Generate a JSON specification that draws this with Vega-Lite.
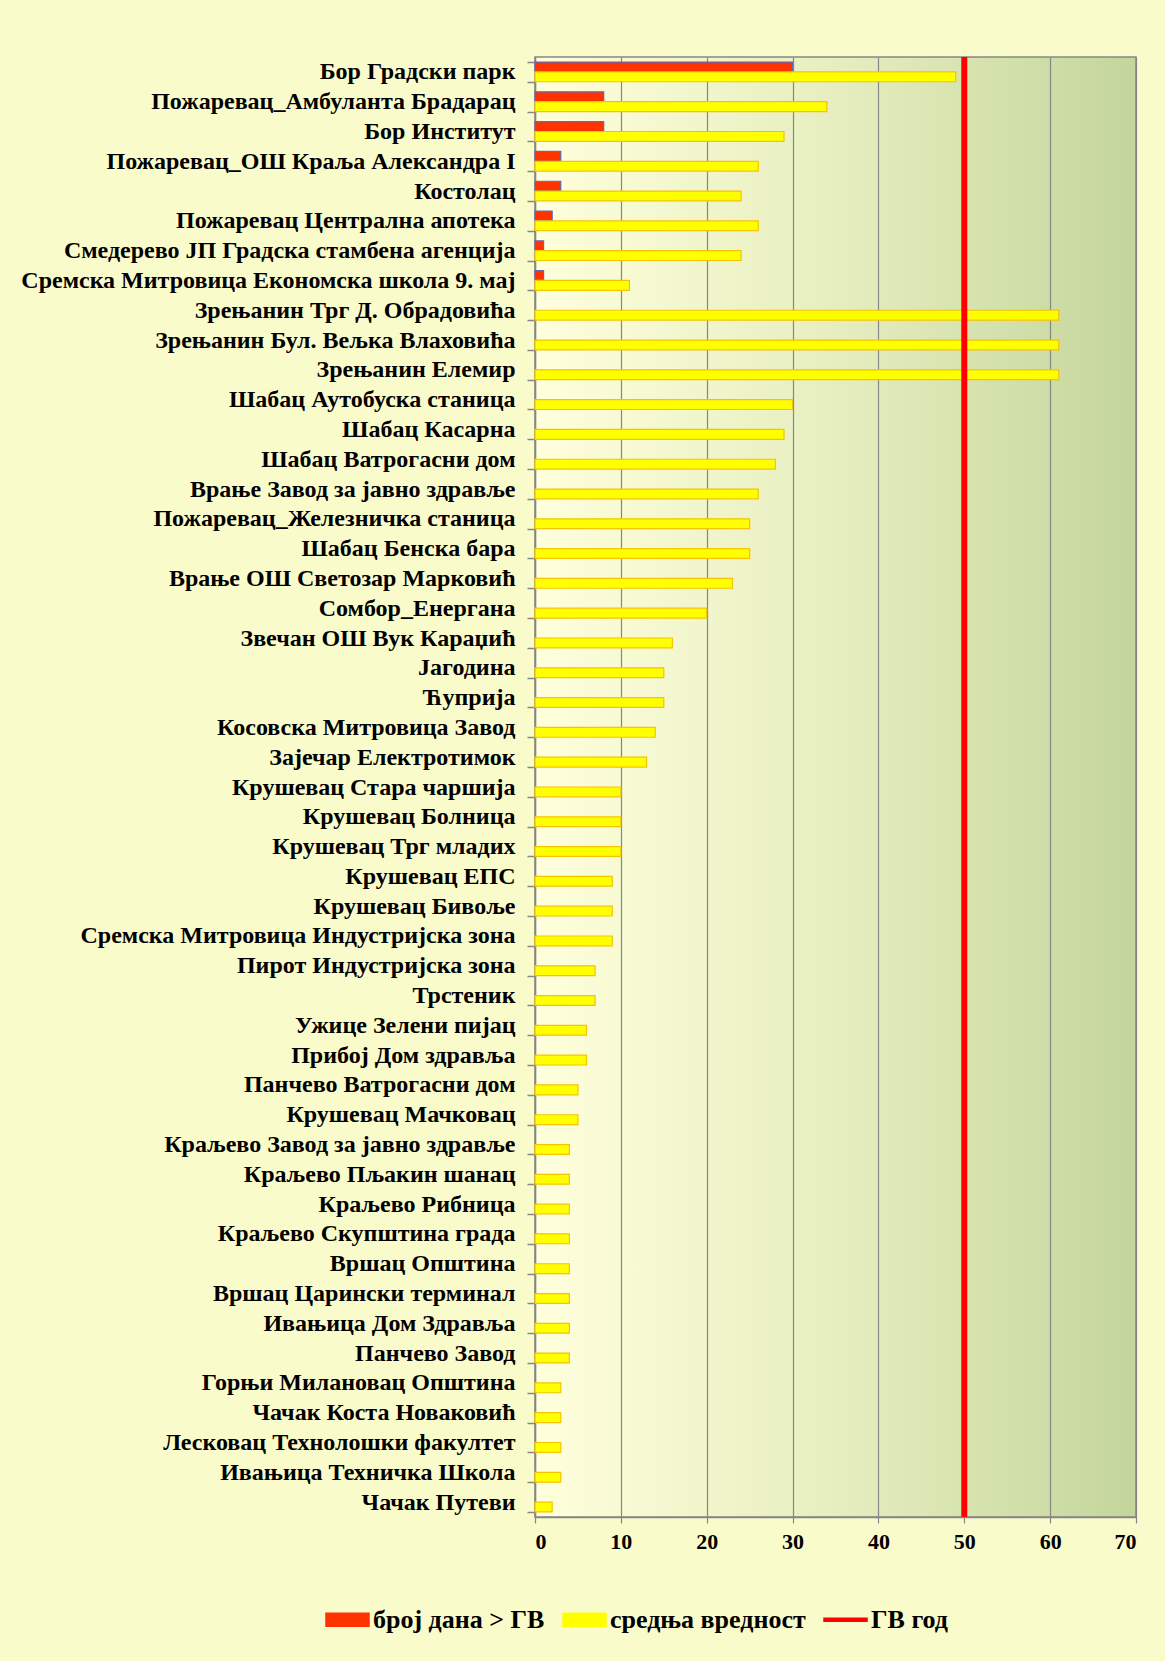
{
  "$schema": "https://vega.github.io/schema/vega-lite/v6.json",
  "width": 601,
  "height": 1460,
  "autosize": {"type": "none"},
  "padding": {"left": 535, "top": 57, "right": 29, "bottom": 144},
  "background": "#FAFBCB",
  "config": {
    "view": {
      "fill": {"gradient": "linear", "x1": 0, "y1": 0, "x2": 1, "y2": 0,
        "stops": [{"offset": 0, "color": "#FFFFDC"}, {"offset": 0.5, "color": "#E6EEBF"}, {"offset": 1, "color": "#C4D69C"}]},
      "stroke": "#868686",
      "strokeWidth": 1.5
    },
    "font": "Liberation Serif"
  },
  "data": {
    "values": [
      {"s": "Бор Градски парк", "k": "број дана > ГВ", "v": 30},
      {"s": "Бор Градски парк", "k": "средња вредност", "v": 49},
      {"s": "Пожаревац_Амбуланта Брадарац", "k": "број дана > ГВ", "v": 8},
      {"s": "Пожаревац_Амбуланта Брадарац", "k": "средња вредност", "v": 34},
      {"s": "Бор Институт", "k": "број дана > ГВ", "v": 8},
      {"s": "Бор Институт", "k": "средња вредност", "v": 29},
      {"s": "Пожаревац_ОШ Краља Александра I", "k": "број дана > ГВ", "v": 3},
      {"s": "Пожаревац_ОШ Краља Александра I", "k": "средња вредност", "v": 26},
      {"s": "Костолац", "k": "број дана > ГВ", "v": 3},
      {"s": "Костолац", "k": "средња вредност", "v": 24},
      {"s": "Пожаревац Централна апотека", "k": "број дана > ГВ", "v": 2},
      {"s": "Пожаревац Централна апотека", "k": "средња вредност", "v": 26},
      {"s": "Смедерево ЈП Градска стамбена агенција", "k": "број дана > ГВ", "v": 1},
      {"s": "Смедерево ЈП Градска стамбена агенција", "k": "средња вредност", "v": 24},
      {"s": "Сремска Митровица Економска школа 9. мај", "k": "број дана > ГВ", "v": 1},
      {"s": "Сремска Митровица Економска школа 9. мај", "k": "средња вредност", "v": 11},
      {"s": "Зрењанин Трг Д. Обрадовића", "k": "средња вредност", "v": 61},
      {"s": "Зрењанин Бул. Вељка Влаховића", "k": "средња вредност", "v": 61},
      {"s": "Зрењанин Елемир", "k": "средња вредност", "v": 61},
      {"s": "Шабац Аутобуска станица", "k": "средња вредност", "v": 30},
      {"s": "Шабац Касарна", "k": "средња вредност", "v": 29},
      {"s": "Шабац Ватрогасни дом", "k": "средња вредност", "v": 28},
      {"s": "Врање Завод за јавно здравље", "k": "средња вредност", "v": 26},
      {"s": "Пожаревац_Железничка станица", "k": "средња вредност", "v": 25},
      {"s": "Шабац Бенска бара", "k": "средња вредност", "v": 25},
      {"s": "Врање ОШ Светозар Марковић", "k": "средња вредност", "v": 23},
      {"s": "Сомбор_Енергана", "k": "средња вредност", "v": 20},
      {"s": "Звечан ОШ Вук Караџић", "k": "средња вредност", "v": 16},
      {"s": "Јагодина", "k": "средња вредност", "v": 15},
      {"s": "Ћуприја", "k": "средња вредност", "v": 15},
      {"s": "Косовска Митровица Завод", "k": "средња вредност", "v": 14},
      {"s": "Зајечар Електротимок", "k": "средња вредност", "v": 13},
      {"s": "Крушевац Стара чаршија", "k": "средња вредност", "v": 10},
      {"s": "Крушевац Болница", "k": "средња вредност", "v": 10},
      {"s": "Крушевац Трг младих", "k": "средња вредност", "v": 10},
      {"s": "Крушевац ЕПС", "k": "средња вредност", "v": 9},
      {"s": "Крушевац Бивоље", "k": "средња вредност", "v": 9},
      {"s": "Сремска Митровица Индустријска зона", "k": "средња вредност", "v": 9},
      {"s": "Пирот Индустријска зона", "k": "средња вредност", "v": 7},
      {"s": "Трстеник", "k": "средња вредност", "v": 7},
      {"s": "Ужице Зелени пијац", "k": "средња вредност", "v": 6},
      {"s": "Прибој Дом здравља", "k": "средња вредност", "v": 6},
      {"s": "Панчево Ватрогасни дом", "k": "средња вредност", "v": 5},
      {"s": "Крушевац Мачковац", "k": "средња вредност", "v": 5},
      {"s": "Краљево Завод за јавно здравље", "k": "средња вредност", "v": 4},
      {"s": "Краљево Пљакин шанац", "k": "средња вредност", "v": 4},
      {"s": "Краљево Рибница", "k": "средња вредност", "v": 4},
      {"s": "Краљево Скупштина града", "k": "средња вредност", "v": 4},
      {"s": "Вршац Општина", "k": "средња вредност", "v": 4},
      {"s": "Вршац Царински терминал", "k": "средња вредност", "v": 4},
      {"s": "Ивањица Дом Здравља", "k": "средња вредност", "v": 4},
      {"s": "Панчево Завод", "k": "средња вредност", "v": 4},
      {"s": "Горњи Милановац Општина", "k": "средња вредност", "v": 3},
      {"s": "Чачак Коста Новаковић", "k": "средња вредност", "v": 3},
      {"s": "Лесковац Технолошки факултет", "k": "средња вредност", "v": 3},
      {"s": "Ивањица Техничка Школа", "k": "средња вредност", "v": 3},
      {"s": "Чачак Путеви", "k": "средња вредност", "v": 2}
    ]
  },
  "layer": [
    {
      "mark": {"type": "bar", "strokeWidth": 1.2},
      "encoding": {
        "y": {
          "field": "s", "type": "nominal", "sort": null,
          "scale": {"paddingInner": 0.34, "paddingOuter": 0.17},
          "axis": {
            "title": null, "labelFont": "Liberation Serif", "labelFontWeight": "bold",
            "labelFontSize": 24, "labelColor": "#000000", "labelLimit": 0, "labelPadding": 12,
            "labelOverlap": false,
            "tickBand": "extent", "tickSize": 8, "tickColor": "#868686", "tickWidth": 1.5,
            "domainColor": "#868686", "domainWidth": 1.5
          }
        },
        "yOffset": {"field": "k", "type": "nominal", "scale": {"domain": ["број дана > ГВ", "средња вредност"]}},
        "x": {
          "field": "v", "type": "quantitative",
          "scale": {"domain": [0, 70], "nice": false},
          "axis": {
            "title": null, "values": [0, 10, 20, 30, 40, 50, 60, 70],
            "labelFont": "Liberation Serif", "labelFontWeight": "bold", "labelFontSize": 22,
            "labelColor": "#000000", "labelPadding": 8,
            "grid": true, "gridColor": "#868686", "gridWidth": 1.2,
            "tickSize": 6, "tickColor": "#868686", "tickWidth": 1.2,
            "domainColor": "#868686", "domainWidth": 1.5
          }
        },
        "color": {
          "field": "k", "type": "nominal",
          "scale": {"domain": ["број дана > ГВ", "средња вредност", "ГВ год"], "range": ["#FF3300", "#FFFF00", "#FF0000"]},
          "legend": {
            "orient": "none", "legendX": -210, "legendY": 1540, "direction": "horizontal",
            "title": null, "labelFont": "Liberation Serif", "labelFontWeight": "bold",
            "labelFontSize": 26, "labelColor": "#000000", "labelOffset": 3, "labelLimit": 0,
            "columnPadding": 15, "symbolSize": 1849, "symbolStrokeWidth": 1.5,
            "encode": {
              "symbols": {
                "update": {
                  "shape": {"signal": "datum.value === 'ГВ год' ? 'M-1,-0.07H1V0.07H-1Z' : 'M-1,-0.3H1V0.3H-1Z'"},
                  "fill": {"signal": "datum.value === 'број дана > ГВ' ? '#FF3300' : datum.value === 'средња вредност' ? '#FFFF00' : '#FF0000'"},
                  "stroke": {"signal": "datum.value === 'број дана > ГВ' ? '#6E64A8' : datum.value === 'средња вредност' ? '#F2C200' : '#FF0000'"},
                  "opacity": {"value": 1}
                }
              }
            }
          }
        },
        "stroke": {
          "field": "k", "type": "nominal",
          "scale": {"domain": ["број дана > ГВ", "средња вредност"], "range": ["#6E64A8", "#F5C400"]},
          "legend": null
        }
      }
    },
    {
      "data": {"values": [{"k": "ГВ год", "v": 50}]},
      "mark": {"type": "rule", "strokeWidth": 6},
      "encoding": {
        "x": {"field": "v", "type": "quantitative"},
        "color": {"field": "k", "type": "nominal"}
      }
    }
  ]
}
